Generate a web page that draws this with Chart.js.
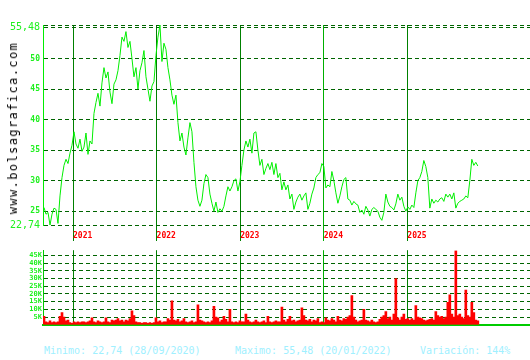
<!DOCTYPE html>
<html>
<head>
<meta charset="utf-8">
<script src="https://cdn.jsdelivr.net/npm/chart.js@4.4.1/dist/chart.umd.min.js"></script>
<style>
    body { margin: 0; background: #fff; width: 530px; height: 360px; overflow: hidden; position: relative; font-family: "DejaVu Sans Mono", monospace; }
    #main { position: absolute; left: 0; top: 0; }
    #vol { position: absolute; left: 0; top: 245px; }
    .marca { position: absolute; left: 13px; top: 128px; transform: translate(-50%, -50%) rotate(-90deg); font-size: 12px; letter-spacing: 1.4px; color: #000; white-space: nowrap; }
    .pie { position: absolute; top: 345px; font-size: 10px; line-height: 12px; color: #a0f0ff; white-space: nowrap; }
</style>
</head>
<body>
<canvas id="main" width="530" height="245"></canvas>
<canvas id="vol" width="530" height="85"></canvas>
<div class="marca">www.bolsagrafica.com</div>
<div class="pie" style="left:44px">Minimo: 22,74 (28/09/2020)</div>
<div class="pie" style="left:235px">Maximo: 55,48 (20/01/2022)</div>
<div class="pie" style="left:420px">Variación: 144%</div>
<script>
// ============================================
// DATOS - cotizacion y volumen
// ============================================

const startYear = 2020.653;   // primera sesion del grafico
const stepYears = 0.02392;    // separacion entre muestras

const precios = [
    25.6, 24.5, 24.8, 22.74, 24.5, 25.5, 25.3, 23.0, 27.5, 30.5,
    32.5, 33.5, 32.8, 34.5, 35.8, 38.0, 36.0, 35.3, 36.8, 34.8,
    35.5, 37.8, 34.3, 36.5, 36.0, 41.0, 42.8, 44.3, 42.2, 46.0,
    48.5, 46.8, 47.8, 44.5, 42.6, 45.8, 46.5, 48.0, 50.5, 53.5,
    52.8, 54.4, 51.8, 52.8, 50.0, 47.0, 48.5, 45.0, 48.0, 49.3,
    51.3, 47.0, 45.0, 43.0, 45.5, 46.2, 50.5, 53.5, 55.48, 49.5,
    52.5, 51.5, 48.5, 46.5, 44.0, 42.5, 44.0, 39.5, 36.5, 37.8,
    35.5, 34.2, 37.0, 39.5, 38.0, 33.0, 29.0, 26.8, 25.8, 26.8,
    29.5, 31.0, 30.5, 27.8, 26.3, 25.0, 26.5, 24.8, 25.4, 25.0,
    25.8, 27.5, 29.0, 28.3, 29.0, 30.0, 30.3, 28.3, 29.8, 32.5,
    35.0, 36.5, 35.5, 36.8, 34.5, 37.8, 38.0, 35.0, 32.5, 33.5,
    31.0, 32.0, 32.8, 31.8, 33.0, 31.0, 32.8, 30.5, 31.2, 28.5,
    29.8, 28.5, 29.3, 27.0, 27.8, 25.3, 26.5, 27.3, 27.8, 26.8,
    27.5, 28.0, 25.3, 26.3, 27.8, 28.8, 30.5, 31.0, 31.3, 32.8,
    32.3, 28.8, 29.3, 29.0, 31.5, 30.0, 28.0, 26.3, 27.5, 29.0,
    30.2, 30.5, 27.0, 26.8, 26.0, 26.6, 26.2, 26.0, 24.8, 25.2,
    24.5, 25.8, 25.2, 24.2, 25.3, 25.6, 25.3, 25.0, 24.0, 23.5,
    24.8, 27.8, 26.5, 25.8, 25.6, 25.2, 26.2, 27.8, 26.8, 27.3,
    25.8, 25.0, 25.7, 25.3, 26.0, 25.6, 28.0, 30.0, 30.5, 31.5,
    33.3, 32.3, 30.5, 25.5, 27.0, 26.3, 26.8, 26.5, 27.0, 27.2,
    26.6, 27.8, 27.3, 27.8, 27.0, 28.0, 25.5, 26.3, 26.6, 26.8,
    27.0, 27.5, 27.2, 30.0, 33.5, 32.5, 33.0, 32.4
];

// volumen en miles (K)
const volumenes = [
    5.5, 2, 1.5, 2.5, 1.5, 2, 1.5, 2, 5.5, 8,
    5, 2.5, 3, 1.5, 1, 2, 1.5, 2, 1.5, 2,
    2, 1.5, 2, 2.5, 4.5, 2, 1.5, 2.5, 2, 1.5,
    2, 4.5, 2, 1.5, 3, 2.5, 3, 4, 2.5, 3,
    2, 3, 2.5, 4, 9, 6, 2, 1.5, 1.5, 1,
    1.5, 1.5, 1, 1.5, 1, 1.5, 4.5, 2, 2.5, 1.5,
    2, 2, 4, 3, 15.5, 3, 2.5, 3.5, 2, 2.5,
    4, 2, 1.5, 2, 2.5, 1.5, 2, 13, 3, 2.5,
    2, 1.5, 2, 1.5, 2.5, 12, 5, 4.5, 2, 3,
    5.5, 3.5, 2, 10, 2, 1.5, 2, 1.5, 2.5, 2,
    2, 7, 3, 2, 1.5, 2, 3, 2, 1.5, 2,
    2.5, 1.5, 5.5, 2, 1.5, 2, 2.5, 2, 2, 11.5,
    3, 2, 3.5, 5.5, 2.5, 3, 2, 2.5, 3, 11,
    6, 3, 2.5, 3.5, 2, 3, 2.5, 4, 1.5, 2,
    1.5, 4.5, 3, 2.5, 4, 3, 2, 5.5, 3, 2.5,
    4, 3.5, 5, 6, 19, 5, 3, 2, 2.5, 3,
    10, 3, 2.5, 2, 3, 2, 1.5, 2, 3.5, 5,
    6, 8.5, 4, 5, 3, 7, 30, 4.5, 3, 5,
    7, 3.5, 4, 3, 4, 3, 12.5, 5, 4.5, 4,
    3, 2.5, 3, 3.5, 4, 3, 8.5, 6, 5, 5.5,
    4, 5, 14.5, 19.5, 7, 5, 48, 6, 7, 5,
    4, 22.5, 6, 5, 14.5, 8, 3, 2.5
];

const years = [2021, 2022, 2023, 2024, 2025];
const xMin = 2020.641;
const xMax = 2026.468;

const priceTicks  = [22.74, 25, 30, 35, 40, 45, 50, 55.15, 55.48];
const priceLabels = ['22,74', '25', '30', '35', '40', '45', '50', '55,48', ''];
const volTicks  = [0, 5, 10, 15, 20, 25, 30, 35, 40, 45];
const volLabels = ['', '5K', '10K', '15K', '20K', '25K', '30K', '35K', '40K', '45K'];

// ============================================
// ESTILOS
// ============================================

const LINE_GREEN = '#00ee00';
const LABEL_GREEN = '#1ef01e';
const GRID_DASH = '#006400';
const FONT = '"DejaVu Sans Mono", monospace';

function yearColor(ctx) {
    return ctx.tick && ctx.tick.value === 2024 ? '#00b000' : '#008000';
}

function setYearTicks(scale) {
    scale.ticks = years.map(v => ({ value: v }));
}

const pricePoints = precios.map((p, i) => ({ x: startYear + i * stepYears, y: p }));
const volPoints = volumenes.map((v, i) => ({ x: startYear + i * stepYears, y: v }));

// ============================================
// GRAFICO DE COTIZACION
// ============================================

new Chart(document.getElementById('main'), {
    type: 'line',
    data: {
        datasets: [{
            data: pricePoints,
            borderColor: LINE_GREEN,
            borderWidth: 1,
            pointRadius: 0,
            tension: 0,
            fill: false
        }]
    },
    options: {
        responsive: false,
        animation: false,
        devicePixelRatio: 1,
        layout: { padding: { top: 25, left: 0, right: 0, bottom: 0 } },
        plugins: { legend: { display: false }, tooltip: { enabled: false } },
        scales: {
            x: {
                type: 'linear',
                min: xMin,
                max: xMax,
                afterBuildTicks: setYearTicks,
                afterFit: s => { s.height = 20; },
                grid: { color: yearColor, lineWidth: 1, drawTicks: true, tickLength: 16, tickColor: yearColor },
                border: { display: false },
                ticks: {
                    autoSkip: false,
                    maxRotation: 0,
                    align: 'start',
                    padding: -10,
                    color: '#ff0000',
                    font: { family: FONT, size: 8, weight: 'bold' },
                    callback: v => String(v)
                }
            },
            y: {
                type: 'linear',
                min: 22.74,
                max: 55.48,
                afterBuildTicks: s => { s.ticks = priceTicks.map(v => ({ value: v })); },
                afterFit: s => { s.width = 43; },
                grid: { color: GRID_DASH, lineWidth: 1, drawTicks: false },
                border: { display: true, color: LINE_GREEN, width: 1, dash: [4, 3] },
                ticks: {
                    autoSkip: false,
                    padding: 3,
                    color: LABEL_GREEN,
                    font: ctx => {
                        const v = ctx.tick ? ctx.tick.value : 0;
                        return (v === 22.74 || v === 55.15)
                            ? { family: FONT, size: 10 }
                            : { family: FONT, size: 8, weight: 'bold' };
                    },
                    callback: v => priceLabels[priceTicks.indexOf(v)] ?? ''
                }
            }
        }
    }
});

// ============================================
// GRAFICO DE VOLUMEN
// ============================================

new Chart(document.getElementById('vol'), {
    type: 'bar',
    data: {
        datasets: [{
            data: volPoints,
            backgroundColor: '#ff0000',
            borderWidth: 0,
            barThickness: 2
        }]
    },
    options: {
        responsive: false,
        animation: false,
        devicePixelRatio: 1,
        layout: { padding: { top: 5, left: 0, right: 0, bottom: 0 } },
        plugins: { legend: { display: false }, tooltip: { enabled: false } },
        scales: {
            x: {
                type: 'linear',
                min: xMin,
                max: xMax,
                offset: false,
                afterBuildTicks: setYearTicks,
                afterFit: s => { s.height = 4; },
                grid: { color: yearColor, lineWidth: 1, drawTicks: false, offset: false },
                border: { display: true, color: '#00cc00', width: 2 },
                ticks: { display: false, autoSkip: false }
            },
            y: {
                type: 'linear',
                min: 0,
                max: 48.4,
                afterBuildTicks: s => { s.ticks = volTicks.map(v => ({ value: v })); },
                afterFit: s => { s.width = 43; },
                grid: { color: GRID_DASH, lineWidth: 1, drawTicks: false },
                border: { display: true, color: '#00cc00', width: 1, dash: [4, 3] },
                ticks: {
                    autoSkip: false,
                    padding: 1,
                    color: LABEL_GREEN,
                    font: { family: FONT, size: 7, weight: 'bold' },
                    callback: v => volLabels[volTicks.indexOf(v)] ?? ''
                }
            }
        }
    }
});
</script>
</body>
</html>
